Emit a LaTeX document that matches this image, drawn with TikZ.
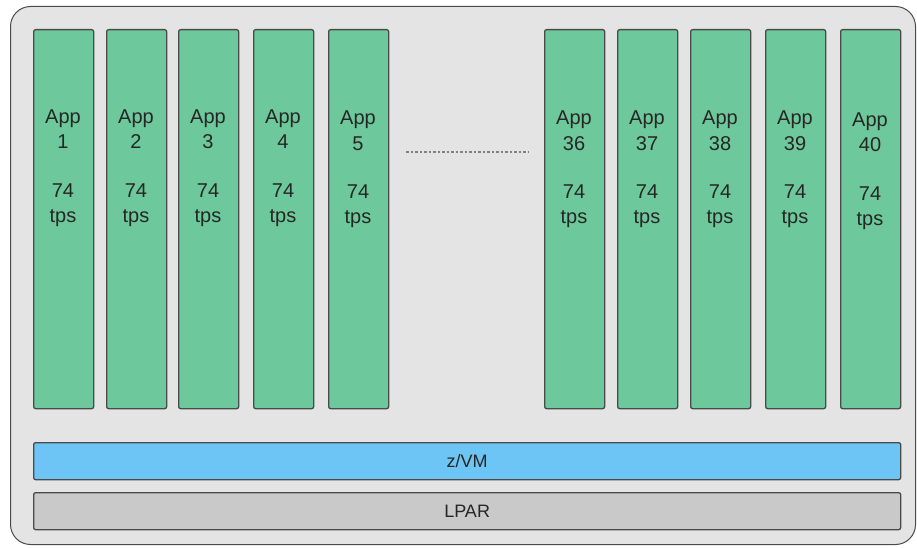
\documentclass[tikz,border=0pt]{standalone}
\usepackage{fontspec}
\setmainfont{Liberation Sans}
\definecolor{outerfill}{HTML}{E4E4E4}
\definecolor{appgreen}{HTML}{6DC99B}
\definecolor{vmblue}{HTML}{6CC5F4}
\definecolor{lpargray}{HTML}{C9C9C9}
\definecolor{edge}{HTML}{4A4A4A}
\begin{document}
\begin{tikzpicture}[x=1pt,y=-1pt,
  outerbox/.style={draw=edge, line width=1pt, fill=outerfill, rounded corners=20pt},
  appbox/.style={draw=edge, line width=1.3pt, fill=appgreen, rounded corners=2pt,
    minimum width=60pt, minimum height=379pt, anchor=north west, inner sep=0pt},
  barbox/.style={draw=edge, line width=1.3pt, rounded corners=2pt,
    minimum width=867pt, minimum height=37pt, anchor=north west, inner sep=0pt,
    font=\fontsize{18}{21}\selectfont, text=black!85},
  lbl/.style={anchor=base, inner sep=0pt, font=\fontsize{20}{23}\selectfont, text=black!85},
  dots/.style={draw=gray, line width=1.5pt, dash pattern=on 2.5pt off 2pt}]
\useasboundingbox (0,0) rectangle (917,548);
\node[outerbox, minimum width=905pt, minimum height=538pt, anchor=north west, inner sep=0pt] (outer) at (10,6) {};
\foreach \x/\n/\d in {33/1/0,106/2/0,178/3/0,253/4/0,328/5/1,544/36/1,617/37/1,690/38/1,765/39/1,840/40/3}{
  \node[appbox] (app\n) at (\x,29) {};
  \node[lbl] (appA\n) at (\x+30,124+\d) {App};
  \node[lbl] (appN\n) at (\x+30,149+\d) {\n};
  \node[lbl] (appT\n) at (\x+30,197+\d) {74};
  \node[lbl] (appU\n) at (\x+30,222+\d) {tps};
}
\coordinate (dl) at (406,152);
\coordinate (dr) at (528,152);
\draw[dots] (dl) -- (dr);
\node[barbox, fill=vmblue] (zvm) at (33,442) {z/VM};
\node[barbox, fill=lpargray] (lpar) at (33,492) {LPAR};
\end{tikzpicture}
\end{document}
